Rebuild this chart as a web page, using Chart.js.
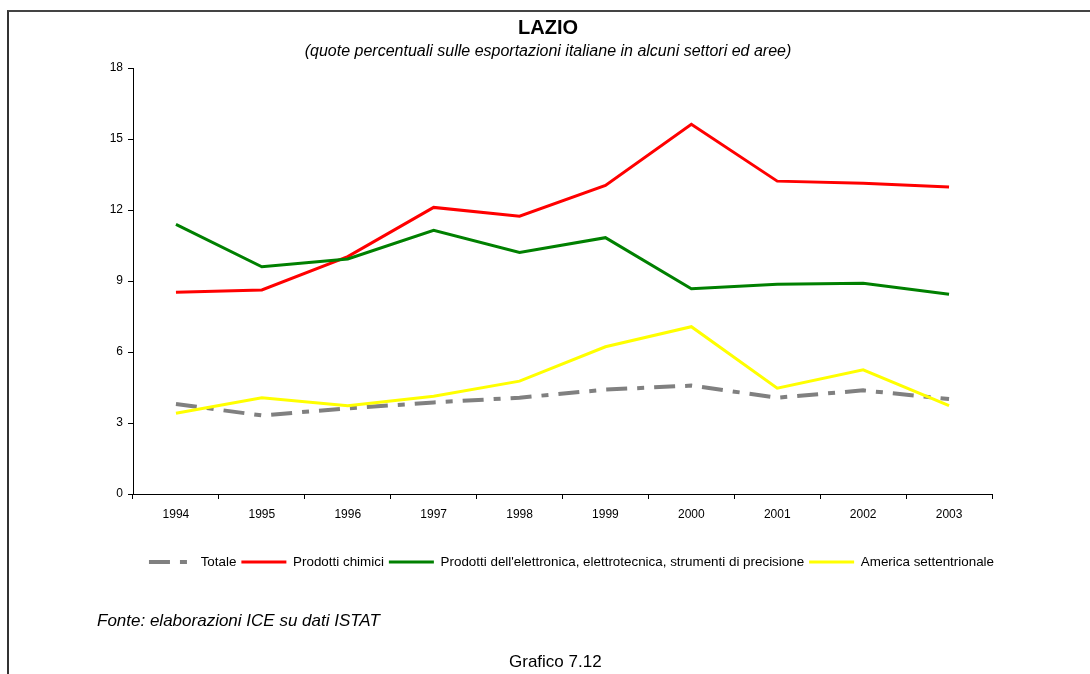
<!DOCTYPE html>
<html>
<head>
<meta charset="utf-8">
<script src="https://cdn.jsdelivr.net/npm/chart.js@4"></script>
<style>
  html, body { margin: 0; padding: 0; background: #fff; }
  #wrap { position: relative; width: 1090px; height: 674px; overflow: hidden; font-family: 'Liberation Sans', Arial, sans-serif; }
  #frame { position: absolute; left: 7px; top: 10px; width: 1090px; height: 700px; border-top: 2px solid #444; border-left: 2px solid #333; }
  canvas { position: absolute; left: 0; top: 0; }
  .note { position: absolute; font-size: 17px; color: #000; white-space: nowrap; line-height: 20px; }
</style>
</head>
<body>
<div id="wrap">
  <div id="frame"></div>
  <canvas id="c" width="1090" height="674"></canvas>
  <div class="note" style="left:97px; top:611px; font-style:italic;">Fonte: elaborazioni ICE su dati ISTAT</div>
  <div class="note" style="left:509px; top:652px;">Grafico 7.12</div>
</div>
<script>
const years = ['1994','1995','1996','1997','1998','1999','2000','2001','2002','2003'];
const totale = [3.80, 3.32, 3.62, 3.87, 4.07, 4.41, 4.58, 4.07, 4.38, 4.01];
const chimici = [8.52, 8.62, 10.03, 12.11, 11.74, 13.04, 15.62, 13.22, 13.13, 12.97];
const elettronica = [11.39, 9.60, 9.93, 11.14, 10.21, 10.83, 8.67, 8.86, 8.90, 8.44];
const america = [3.41, 4.07, 3.73, 4.13, 4.77, 6.22, 7.07, 4.47, 5.25, 3.73];
const seriesNames = ['Totale', 'Prodotti chimici', "Prodotti dell'elettronica, elettrotecnica, strumenti di precisione", 'America settentrionale'];
const yTicks = [0, 3, 6, 9, 12, 15, 18];

Chart.defaults.font.family = "'Liberation Sans', Arial, sans-serif";
Chart.defaults.color = '#000';

const legendShift = {
  id: 'legendShift',
  afterLayout(chart) {
    const l = chart.legend;
    if (l) { l.left += 9; l.right += 9; }
  }
};

new Chart(document.getElementById('c'), {
  type: 'line',
  data: {
    labels: years,
    datasets: [
      { label: seriesNames[0], data: totale, borderColor: '#808080', backgroundColor: '#808080', borderWidth: 4, borderDash: [21, 10, 7, 10], order: 4 },
      { label: seriesNames[1], data: chimici, borderColor: '#ff0000', backgroundColor: '#ff0000', borderWidth: 3, order: 3 },
      { label: seriesNames[2], data: elettronica, borderColor: '#008000', backgroundColor: '#008000', borderWidth: 3, order: 2 },
      { label: seriesNames[3], data: america, borderColor: '#ffff00', backgroundColor: '#ffff00', borderWidth: 3, order: 1 }
    ]
  },
  plugins: [legendShift],
  options: {
    responsive: false,
    animation: false,
    events: [],
    elements: { point: { radius: 0 }, line: { tension: 0, fill: false } },
    layout: { padding: { left: 104, right: 98, top: 0, bottom: 95.3 } },
    plugins: {
      title: { display: true, text: 'LAZIO', font: { size: 20, weight: 'bold' }, padding: { top: 16, bottom: 1 }, color: '#000' },
      subtitle: { display: true, text: '(quote percentuali sulle esportazioni italiane in alcuni settori ed aree)', font: { size: 16, style: 'italic' }, padding: { top: 0.6, bottom: 7.2 }, color: '#000' },
      legend: {
        position: 'bottom',
        fullSize: false,
        labels: {
          usePointStyle: true,
          pointStyle: 'line',
          pointStyleWidth: 45,
          padding: 5,
          font: { size: 13.4 },
          color: '#000',
          sort: (a, b) => a.datasetIndex - b.datasetIndex,
          generateLabels: (chart) => {
            const items = Chart.defaults.plugins.legend.labels.generateLabels(chart);
            items.forEach(it => {
              const ds = chart.data.datasets[it.datasetIndex];
              it.lineDash = ds.borderDash || [];
              it.lineWidth = ds.borderWidth;
              it.strokeStyle = ds.borderColor;
              it.pointStyle = 'line';
            });
            return items;
          }
        }
      },
      tooltip: { enabled: false }
    },
    scales: {
      x: {
        offset: true,
        grid: { display: true, drawOnChartArea: false, drawTicks: true, tickLength: 5, color: '#000', offset: true },
        border: { display: true, color: '#000', width: 1 },
        ticks: { font: { size: 12 }, padding: 8, color: '#000', maxRotation: 0 },
        afterFit: s => { s.height = 56.3; }
      },
      y: {
        min: 0, max: 18,
        afterBuildTicks: s => { s.ticks = yTicks.map(v => ({ value: v })); },
        grid: { display: true, drawOnChartArea: false, drawTicks: true, tickLength: 5, color: '#000' },
        border: { display: true, color: '#000', width: 1 },
        ticks: { font: { size: 12 }, padding: 5, color: '#000' },
        afterFit: s => { s.width = 29; }
      }
    }
  }
});
</script>
</body>
</html>
